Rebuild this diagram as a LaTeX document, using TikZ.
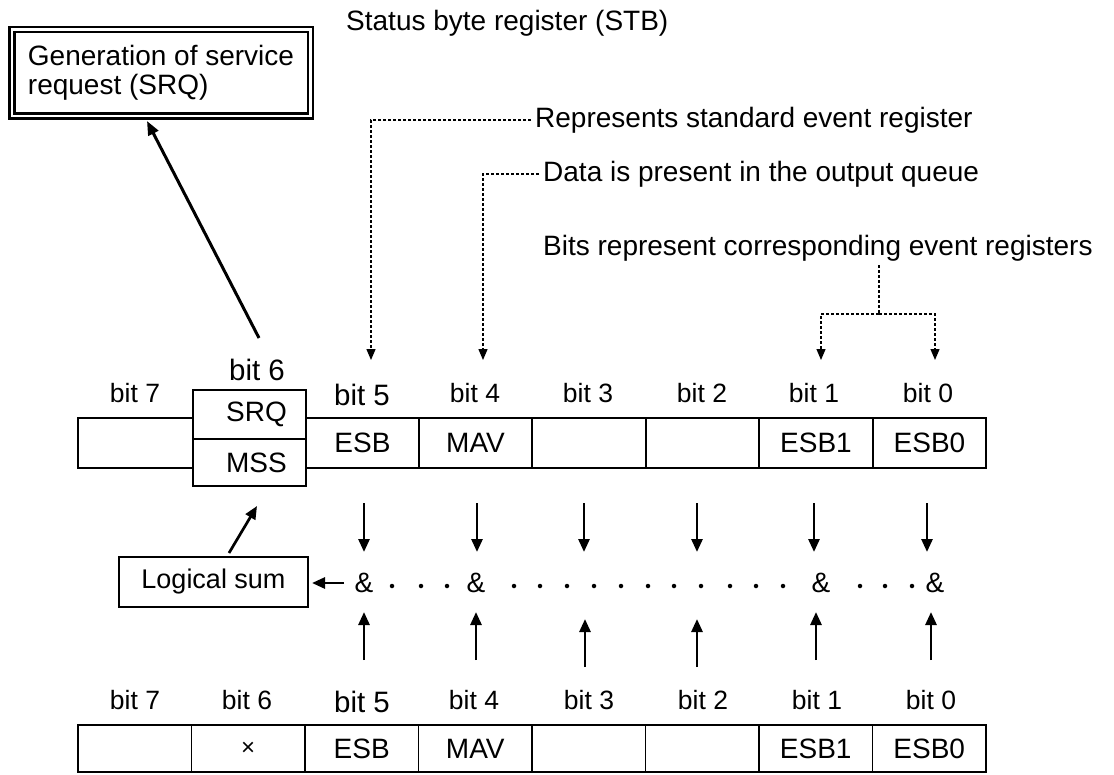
\documentclass[tikz,border=0pt]{standalone}
\usepackage{fontspec}
\setmainfont{Liberation Sans}
\usetikzlibrary{arrows.meta}
\begin{document}
\begin{tikzpicture}[x=1pt,y=-1pt,
  cell/.style={draw,line width=1.6pt,minimum width=113.5pt,minimum height=50pt,inner sep=0pt,font=\fontsize{28}{30}\selectfont},
  bcell/.style={cell,minimum height=47pt},
  bitlbl/.style={inner sep=0pt,font=\fontsize{26.5}{28}\selectfont},
  biglbl/.style={inner sep=0pt,font=\fontsize{29.5}{31}\selectfont},
  annot/.style={inner xsep=4pt,inner ysep=0pt,anchor=west,font=\fontsize{28}{30}\selectfont},
  amp/.style={inner sep=0pt,font=\fontsize{28}{30}\selectfont},
  dotn/.style={circle,fill,inner sep=0pt,minimum size=4.5pt},
  arr/.style={line width=2.7pt,-{Triangle[length=13pt,width=11pt]}},
  darr/.style={line width=1.3pt,dash pattern=on 3pt off 2pt,-{Triangle[length=11pt,width=9pt]}},
  dline/.style={line width=1.3pt,dash pattern=on 3pt off 2pt}]
\useasboundingbox (0,0) rectangle (1114,774);

% generation box
\node[draw,line width=2.5pt,double,double distance=2.5pt,minimum width=298.5pt,minimum height=86.5pt,
      align=left,inner sep=0pt,font=\fontsize{28}{29}\selectfont] (gen) at (161,72.5)
      {Generation of service\\request (SRQ)};

% titles / annotations
\node[annot] (stb) at (342,23) {Status byte register (STB)};
\node[annot] (rse) at (531,120) {Represents standard event register};
\node[annot] (dp) at (539,174) {Data is present in the output queue};
\node[annot] (bits) at (539,248) {Bits represent corresponding event registers};

% top register
\node[cell,minimum width=115pt] (t7) at (135.5,443) {};
\node[cell,minimum width=113pt,minimum height=49pt] (srq) at (249.5,414.5) {\hspace*{14pt}SRQ};
\node[cell,minimum width=113pt,minimum height=47pt] (mss) at (249.5,462.5) {\hspace*{14pt}MSS};
\node[cell] (t5) at (362.5,443) {ESB};
\node[cell] (t4) at (475.5,443) {MAV};
\node[cell] (t3) at (589,443) {};
\node[cell] (t2) at (702.5,443) {};
\node[cell] (t1) at (816,443) {ESB1};
\node[cell] (t0) at (929.5,443) {ESB0};

\node[bitlbl] (lt7) at (135,393) {bit 7};
\node[biglbl] (lt6) at (257,370) {bit 6};
\node[biglbl] (lt5) at (362,395) {bit 5};
\node[bitlbl] (lt4) at (475,393) {bit 4};
\node[bitlbl] (lt3) at (588,393) {bit 3};
\node[bitlbl] (lt2) at (702,393) {bit 2};
\node[bitlbl] (lt1) at (814,393) {bit 1};
\node[bitlbl] (lt0) at (928,393) {bit 0};

% bottom register
\node[bcell] (b7) at (134.75,748.5) {};
\node[bcell] (b6) at (248.25,748.5) {\fontsize{24}{26}\selectfont ×};
\node[bcell] (b5) at (361.75,748.5) {ESB};
\node[bcell] (b4) at (475.25,748.5) {MAV};
\node[bcell] (b3) at (588.75,748.5) {};
\node[bcell] (b2) at (702.25,748.5) {};
\node[bcell] (b1) at (815.75,748.5) {ESB1};
\node[bcell] (b0) at (929.25,748.5) {ESB0};

\node[bitlbl] (lb7) at (135,700) {bit 7};
\node[bitlbl] (lb6) at (247,700) {bit 6};
\node[biglbl] (lb5) at (362,702) {bit 5};
\node[bitlbl] (lb4) at (474,700) {bit 4};
\node[bitlbl] (lb3) at (589,700) {bit 3};
\node[bitlbl] (lb2) at (703,700) {bit 2};
\node[bitlbl] (lb1) at (817,700) {bit 1};
\node[bitlbl] (lb0) at (931,700) {bit 0};

% logical sum row
\node[draw,line width=1.6pt,minimum width=189pt,minimum height=50pt,inner sep=0pt,
      font=\fontsize{27}{29}\selectfont] (ls) at (213.5,582) {Logical sum};
\node[amp] (a5) at (364,583) {\&};
\node[amp] (a4) at (476,583) {\&};
\node[amp] (a1) at (821,583) {\&};
\node[amp] (a0) at (935,583) {\&};
\foreach \i/\x in {1/392,2/421,3/447,4/514,5/540,6/567,7/594,8/621,9/648,10/674,11/701,12/730,13/756,14/783,15/860,16/885,17/912}
  \node[dotn] (dot\i) at (\x,586) {};

% down arrows
\foreach \n/\x in {5/364,4/477,3/584,2/697,1/814,0/927}{
  \coordinate (dt\n) at (\x,503);
  \coordinate (db\n) at (\x,552);
  \draw[arr] (dt\n) -- (db\n);
}
% up arrows
\foreach \n/\x/\t in {5/364/612,4/476/612,3/585/619,2/697/619,1/816/612,0/931/612}{
  \coordinate (ut\n) at (\x,\t);
  \coordinate (ub\n) at (\x,\t+48);
  \draw[arr] (ub\n) -- (ut\n);
}

% logical sum arrows
\coordinate (la) at (344,583);
\coordinate (lb) at (312,583);
\draw[arr] (la) -- (lb);
\coordinate (lm1) at (229,553);
\coordinate (lm2) at (257,506);
\draw[arr] (lm1) -- (lm2);
\coordinate (sg1) at (259,338);
\coordinate (sg2) at (147,121);
\draw[line width=3pt,-{Triangle[length=14pt,width=11pt]}] (sg1) -- (sg2);

% dashed annotation arrows
\coordinate (c5) at (371,120);
\coordinate (dd5) at (371,360);
\draw[darr] (rse.west) -- (c5) -- (dd5);
\coordinate (c4) at (483,174);
\coordinate (dd4) at (483,360);
\draw[darr] (dp.west) -- (c4) -- (dd4);
\coordinate (bt) at (879,265);
\coordinate (bm) at (879,314);
\coordinate (dd1) at (821,360);
\coordinate (dd0) at (935,360);
\draw[dline] (bt) -- (bm);
\draw[darr] (bm) -| (dd1);
\draw[darr] (bm) -| (dd0);
\end{tikzpicture}
\end{document}
